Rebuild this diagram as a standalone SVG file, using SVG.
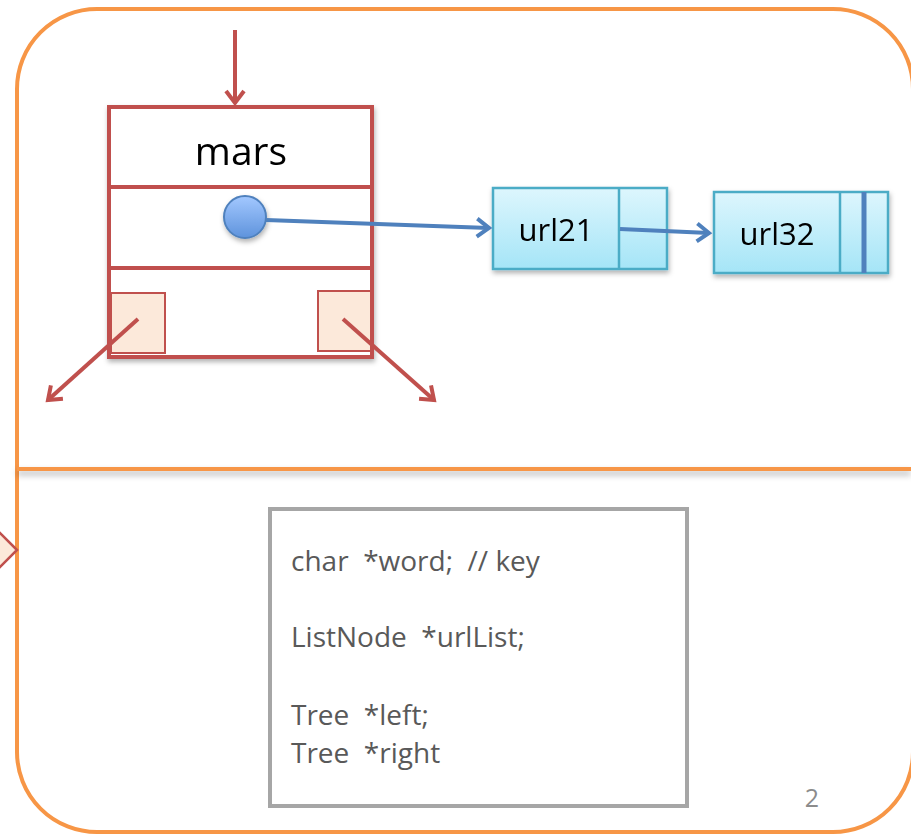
<svg xmlns="http://www.w3.org/2000/svg" width="911" height="835" viewBox="0 0 911 835">
<style>
.frame{fill:none;stroke:#F79646;stroke-width:4}
.red{fill:none;stroke:#C0504D;stroke-width:4}
.redarrow{fill:none;stroke:#C0504D;stroke-width:4;marker-end:url(#rh)}
.bluearrow{fill:none;stroke:#4F81BD;stroke-width:4;marker-end:url(#bh)}
.peach{fill:#FCE9DA;stroke:#C0504D;stroke-width:2}
.url{fill:url(#cyan);stroke:#4BACC6;stroke-width:2.5}
.lbl{font-family:"Open Sans","Liberation Sans",Arial,sans-serif;fill:#000}
.code{font-family:"Open Sans","Liberation Sans",Arial,sans-serif;font-size:28px;fill:#595959}
</style>
<defs>
<linearGradient id="cyan" x1="0" y1="0" x2="0" y2="1"><stop offset="0" stop-color="#DDF6FD"/><stop offset="1" stop-color="#A5E5F7"/></linearGradient>
<linearGradient id="ball" x1="0" y1="0" x2="0" y2="1"><stop offset="0" stop-color="#A3C8FF"/><stop offset="1" stop-color="#5E93DC"/></linearGradient>
<filter id="sh" x="-10%" y="-10%" width="130%" height="140%"><feDropShadow dx="1" dy="3" stdDeviation="2.5" flood-color="#000" flood-opacity="0.3"/></filter>
<filter id="lsh" filterUnits="userSpaceOnUse" x="0" y="455" width="911" height="40"><feDropShadow dx="0" dy="4" stdDeviation="3" flood-color="#000" flood-opacity="0.3"/></filter>
<marker id="rh" markerWidth="8" markerHeight="8" refX="6" refY="4" orient="auto" markerUnits="userSpaceOnUse" viewBox="0 0 8 8" overflow="visible"><path d="M-6,-5 L6,4 L-6,13" fill="none" stroke="#C0504D" stroke-width="4"/></marker>
<marker id="bh" markerWidth="8" markerHeight="8" refX="6" refY="4" orient="auto" markerUnits="userSpaceOnUse" viewBox="0 0 8 8" overflow="visible"><path d="M-6,-5 L6,4 L-6,13" fill="none" stroke="#4F81BD" stroke-width="4"/></marker>
</defs>
<rect width="911" height="835" fill="#fff"/>
<g id="frame">
<rect class="frame" x="17" y="9" width="896" height="823" rx="80" ry="80"/>
<rect x="17" y="467" width="894" height="4" fill="#F79646" filter="url(#lsh)"/>
<path d="M17,550 L-3,530 L-3,570 Z" fill="#FCE9DA" stroke="#C0504D" stroke-width="2.5"/>
</g>
<g id="tree-node" filter="url(#sh)">
<rect x="109" y="107" width="263" height="250" fill="#fff" stroke="#C0504D" stroke-width="4"/>
<line class="red" x1="109" y1="187" x2="372" y2="187"/>
<line class="red" x1="109" y1="268" x2="372" y2="268"/>
<text class="lbl" x="241" y="165" font-size="39" text-anchor="middle">mars</text>
</g>
<g id="left-box"><rect class="peach" x="111" y="293" width="54" height="60"/></g>
<g id="right-box"><rect class="peach" x="318" y="291" width="53" height="60"/></g>
<g id="ball"><circle cx="245" cy="217" r="21" fill="url(#ball)" stroke="#4F81BD" stroke-width="2" filter="url(#sh)"/></g>
<g id="url21" filter="url(#sh)">
<rect class="url" x="493" y="188" width="174" height="81"/>
<line x1="619" y1="188" x2="619" y2="269" stroke="#4BACC6" stroke-width="2.5"/>
<text class="lbl" x="556" y="241" font-size="31" text-anchor="middle">url21</text>
</g>
<g id="url32" filter="url(#sh)">
<rect class="url" x="714" y="192" width="174" height="81"/>
<line x1="840" y1="192" x2="840" y2="273" stroke="#4BACC6" stroke-width="2.5"/>
<line x1="864" y1="192" x2="864" y2="273" stroke="#4F81BD" stroke-width="5"/>
<text class="lbl" x="777" y="245" font-size="31" text-anchor="middle">url32</text>
</g>
<g id="connectors">
<line class="redarrow" x1="235" y1="30" x2="235" y2="103"/>
<line class="redarrow" x1="138" y1="319" x2="48" y2="400"/>
<line class="redarrow" x1="343" y1="319" x2="434" y2="400"/>
<line class="bluearrow" x1="266" y1="220" x2="489" y2="228"/>
<line class="bluearrow" x1="620" y1="229" x2="709" y2="233"/>
</g>
<g id="code-box">
<rect x="270" y="509" width="417" height="297" fill="#fff" stroke="#A6A6A6" stroke-width="4"/>
<text class="code" x="291" y="571" xml:space="preserve">char  *word;  // key</text>
<text class="code" x="291" y="647" xml:space="preserve">ListNode  *urlList;</text>
<text class="code" x="291" y="725" xml:space="preserve">Tree  *left;</text>
<text class="code" x="291" y="763" xml:space="preserve">Tree  *right</text>
</g>
<text x="812" y="807" font-family="Open Sans,Liberation Sans,Arial,sans-serif" font-size="25" fill="#8C8C8C" text-anchor="middle">2</text>
</svg>
